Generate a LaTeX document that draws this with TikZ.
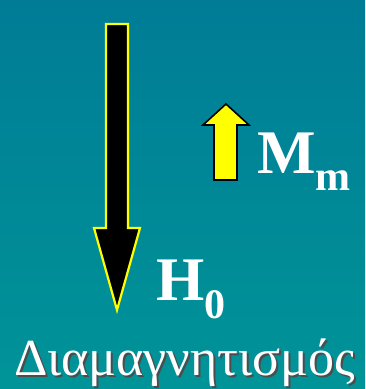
\documentclass[tikz,border=0pt]{standalone}
\usepackage{fontspec}
\setmainfont{Liberation Serif}
\usetikzlibrary{calc}
\definecolor{bgtop}{RGB}{0,124,150}
\definecolor{bgbot}{RGB}{0,148,152}
\definecolor{fieldyellow}{RGB}{255,255,0}
\tikzset{
  fieldarrow/.style = {fill=black,draw=fieldyellow,line width=2.2pt,line join=miter},
  momarrow/.style   = {fill=fieldyellow,draw=black,line width=1.6pt,line join=miter},
  symlabel/.style   = {anchor=base west,inner sep=0pt,text=white,font=\fontsize{62}{62}\selectfont\bfseries},
  titlelabel/.style = {anchor=base west,inner sep=0pt,text=white,font=\fontsize{52}{52}\selectfont},
}
\newcommand{\lowsub}[2]{\raisebox{-#1pt}{\fontsize{42}{42}\selectfont #2}}

\begin{document}
\begin{tikzpicture}[x=1pt,y=-1pt]
  % background
  \shade[top color=bgtop,bottom color=bgbot] (0,0) rectangle (365,389);
  \useasboundingbox (0,0) rectangle (365,389);
  % applied field H0
  \draw[fieldarrow] (106,24) -- (128,24) -- (128,228) -- (140,228)
       -- (117,310) -- (94,228) -- (106,228) -- cycle;
  % induced moment
  \draw[momarrow] (226,104) -- (249,125) -- (237,125) -- (237,180)
       -- (214,180) -- (214,125) -- (203,125) -- cycle;
  \node[symlabel] (mm) at (257,173) {M\lowsub{17}{m}};
  \node[symlabel] (h0) at (156,300) {H\lowsub{18}{0}};
  % title with shadow
  \node[titlelabel,text=black!70] at (16,377) {Διαμαγνητισμός};
  \node[titlelabel] (title) at (14,375) {Διαμαγνητισμός};
\end{tikzpicture}
\end{document}
